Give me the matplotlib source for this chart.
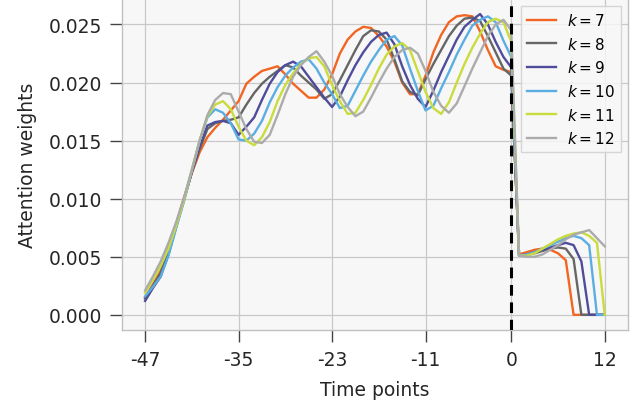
import matplotlib
matplotlib.use("Agg")
import matplotlib.pyplot as plt
import numpy as np

plt.rcParams['font.family'] = ['DejaVu Sans']

time_points = list(range(-47, 13))
xticks = [-47, -35, -23, -11, 0, 12]
yticks = [0.000, 0.005, 0.010, 0.015, 0.020, 0.025]

k7 = [0.0015, 0.0026, 0.0038, 0.0058, 0.0079, 0.0101, 0.0122, 0.0140, 0.0153, 0.0161,
      0.0168, 0.0176, 0.0184, 0.0199, 0.0205, 0.0210, 0.0212, 0.0214, 0.0207, 0.0199,
      0.0193, 0.0187, 0.0187, 0.0194, 0.0207, 0.0225, 0.0237, 0.0244, 0.0248, 0.0247,
      0.0240, 0.0231, 0.0218, 0.0200, 0.0190, 0.0190, 0.0206, 0.0226, 0.0241, 0.0252,
      0.0257, 0.0258, 0.0257, 0.0244, 0.0228, 0.0214, 0.0211, 0.0209,
      0.0052, 0.0054, 0.0056, 0.0057, 0.0056, 0.0053, 0.0047, 0.0, 0.0, 0.0, 0.0, 0.0]
k8 = [0.0014, 0.0025, 0.0036, 0.0056, 0.0078, 0.0100, 0.0123, 0.0143, 0.0160, 0.0165,
      0.0167, 0.0168, 0.0170, 0.0181, 0.0191, 0.0199, 0.0205, 0.0210, 0.0215, 0.0213,
      0.0206, 0.0200, 0.0194, 0.0186, 0.0190, 0.0202, 0.0215, 0.0228, 0.0240, 0.0245,
      0.0244, 0.0237, 0.0220, 0.0201, 0.0192, 0.0189, 0.0203, 0.0216, 0.0228, 0.0240,
      0.0249, 0.0255, 0.0256, 0.0253, 0.0240, 0.0226, 0.0212, 0.0206,
      0.0051, 0.0052, 0.0053, 0.0055, 0.0057, 0.0058, 0.0057, 0.0048, 0.0, 0.0, 0.0, 0.0]
k9 = [0.0012, 0.0023, 0.0033, 0.0052, 0.0076, 0.0099, 0.0123, 0.0145, 0.0163, 0.0166,
      0.0167, 0.0165, 0.0155, 0.0162, 0.0170, 0.0185, 0.0199, 0.0209, 0.0215, 0.0218,
      0.0214, 0.0205, 0.0196, 0.0187, 0.0179, 0.0188, 0.0202, 0.0215, 0.0226, 0.0235,
      0.0241, 0.0243, 0.0233, 0.0214, 0.0198, 0.0186, 0.0179, 0.0193, 0.0209, 0.0223,
      0.0237, 0.0248, 0.0254, 0.0259, 0.0250, 0.0235, 0.0222, 0.0213,
      0.0051, 0.0052, 0.0054, 0.0056, 0.0058, 0.0060, 0.0062, 0.0060, 0.0046, 0.0, 0.0, 0.0]
k10 = [0.0016, 0.0024, 0.0033, 0.0051, 0.0075, 0.0098, 0.0124, 0.0150, 0.0170, 0.0177,
       0.0174, 0.0165, 0.0151, 0.0150, 0.0156, 0.0167, 0.0183, 0.0196, 0.0206, 0.0213,
       0.0218, 0.0220, 0.0212, 0.0200, 0.0190, 0.0178, 0.0180, 0.0193, 0.0206, 0.0218,
       0.0228, 0.0237, 0.0240, 0.0232, 0.0212, 0.0193, 0.0176, 0.0180, 0.0195, 0.0209,
       0.0224, 0.0237, 0.0249, 0.0254, 0.0257, 0.0252, 0.0236, 0.0222,
       0.0051, 0.0052, 0.0054, 0.0057, 0.0060, 0.0063, 0.0066, 0.0068, 0.0066, 0.0060, 0.0, 0.0]
k11 = [0.0019, 0.0030, 0.0042, 0.0057, 0.0077, 0.0099, 0.0125, 0.0150, 0.0171, 0.0181,
       0.0184, 0.0177, 0.0162, 0.0150, 0.0146, 0.0153, 0.0166, 0.0184, 0.0198, 0.0208,
       0.0216, 0.0221, 0.0222, 0.0214, 0.0198, 0.0184, 0.0173, 0.0174, 0.0185, 0.0198,
       0.0212, 0.0224, 0.0231, 0.0234, 0.0228, 0.0210, 0.0192, 0.0178, 0.0173, 0.0183,
       0.0200, 0.0216, 0.0230, 0.0242, 0.0252, 0.0255, 0.0252, 0.0235,
       0.0051, 0.0051, 0.0053, 0.0057, 0.0061, 0.0065, 0.0068, 0.0070, 0.0071, 0.0068, 0.0062, 0.0]
k12 = [0.0021, 0.0033, 0.0046, 0.0062, 0.0080, 0.0101, 0.0125, 0.0150, 0.0172, 0.0185,
       0.0191, 0.0190, 0.0175, 0.0160, 0.0149, 0.0148, 0.0155, 0.0172, 0.0190, 0.0205,
       0.0215, 0.0222, 0.0227, 0.0218, 0.0206, 0.0190, 0.0179, 0.0171, 0.0175, 0.0187,
       0.0200, 0.0212, 0.0222, 0.0228, 0.0230, 0.0225, 0.0210, 0.0192, 0.0180, 0.0174,
       0.0182, 0.0197, 0.0212, 0.0226, 0.0240, 0.0250, 0.0254, 0.0245,
       0.0051, 0.0050, 0.0050, 0.0052, 0.0056, 0.0060, 0.0065, 0.0069, 0.0071, 0.0073, 0.0066, 0.0059]

series = [k7, k8, k9, k10, k11, k12]
labels = [r'$k = 7$', r'$k = 8$', r'$k = 9$', r'$k = 10$', r'$k = 11$', r'$k = 12$']
colors = ['#f26522', '#666666', '#4f4d9b', '#5aaee2', '#c9dc3c', '#ababab']

fig = plt.figure(figsize=(6.36, 4.10), dpi=100)
ax = fig.add_axes([0.192, 0.193, 0.795, 0.807])
ax.set_facecolor('#f7f7f7')

for vals, lab, c in zip(series, labels, colors):
    ax.plot(time_points, vals, color=c, lw=1.7, label=lab)

ax.axvline(0, color='black', lw=2.2, ls=(0, (3.5, 2.2)), zorder=5)

ax.set_xticks(xticks)
ax.set_xticklabels([str(t) for t in xticks])
ax.set_yticks(yticks)
ax.set_yticklabels([f'{v:.3f}' for v in yticks])
ax.grid(True, color='#c8c8c8', lw=0.9)
ax.set_axisbelow(True)
ax.margins(x=0.05, y=0.05)

for s in ['left', 'bottom', 'right']:
    ax.spines[s].set_color('#c0c0c0')
    ax.spines[s].set_linewidth(1.0)
ax.spines['top'].set_visible(False)
ax.tick_params(axis='both', length=8.5, width=1.0, color='#444444',
               labelsize=13.5, labelcolor='#262626', pad=6)

ax.set_xlabel('Time points', fontsize=13.5, color='#262626', labelpad=8)
ax.set_ylabel('Attention weights', fontsize=13.5, color='#262626', labelpad=8)

leg = ax.legend(loc='upper right', fontsize=11, frameon=True, fancybox=False,
                handlelength=1.9, handletextpad=0.7, borderaxespad=0.45)
leg.get_frame().set_facecolor('#f7f7f7')
leg.get_frame().set_edgecolor('#d0d0d0')
leg.get_frame().set_alpha(0.85)

fig.savefig('out.png', dpi=100)
